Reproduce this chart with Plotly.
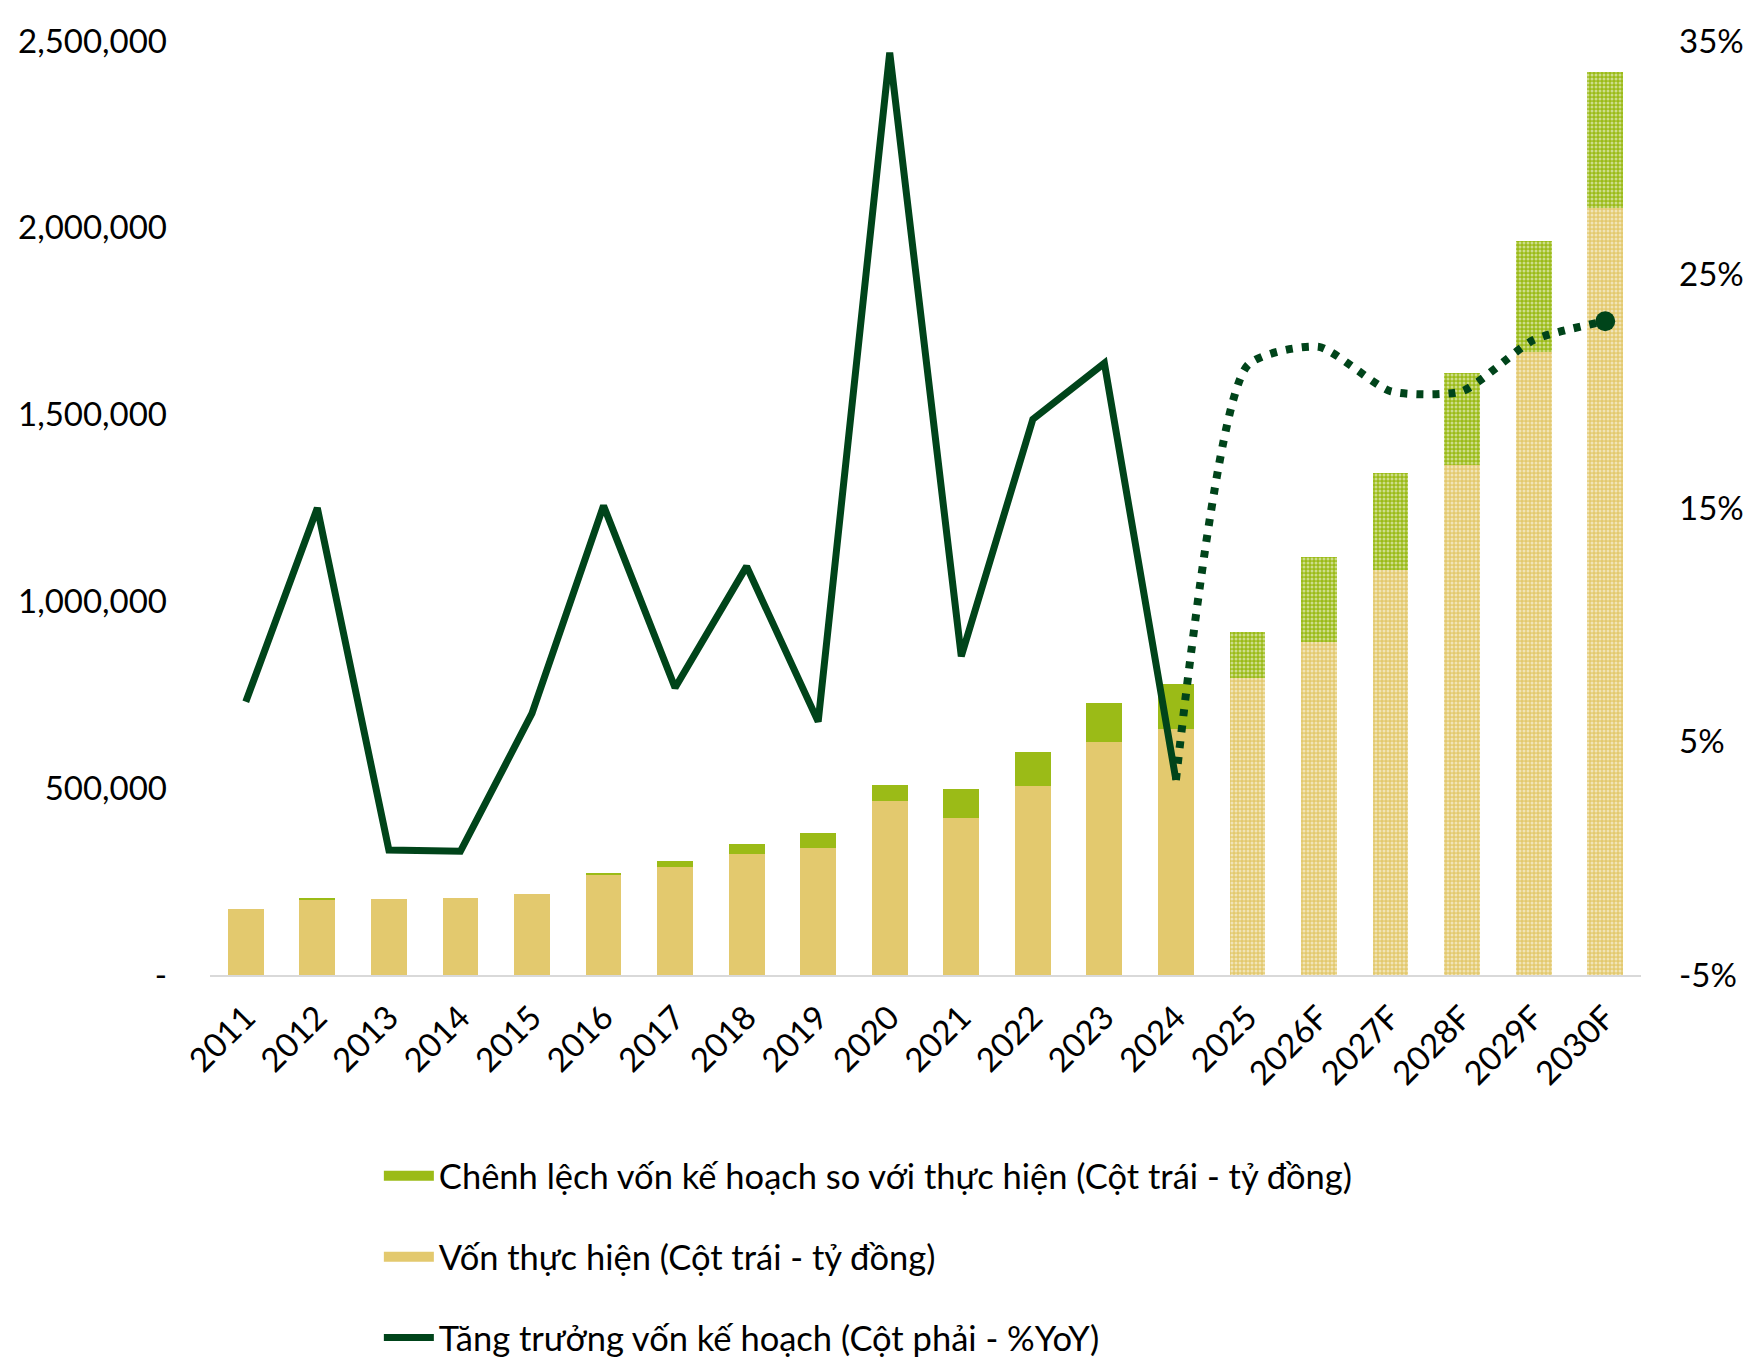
import plotly.graph_objects as go

years = ["2011", "2012", "2013", "2014", "2015", "2016", "2017", "2018", "2019", "2020",
         "2021", "2022", "2023", "2024", "2025", "2026F", "2027F", "2028F", "2029F", "2030F"]
realized = [175600, 202000, 203400, 206000, 217600, 266600, 288000, 322800, 340700, 464700,
            420800, 507000, 623700, 659300, 795800, 892200, 1083000, 1366400, 1668400, 2053800]
gap = [0, 3000, 0, 0, 0, 6400, 17000, 26800, 39300, 44700,
       77200, 89600, 104300, 120400, 123100, 226700, 259600, 244600, 297100, 364000]
growth_actual_years = years[:14]
growth_actual = [6.7, 15.0, 0.35, 0.3, 6.2, 15.1, 7.3, 12.5, 5.85, 34.5, 8.65, 18.8, 21.2, 3.35]
growth_fc_years = years[13:]
growth_fc = [3.35, 21.1, 21.9, 20.0, 20.0, 22.2, 23.0]
forecast_from = "2025"

left_ticks = [0, 500000, 1000000, 1500000, 2000000, 2500000]
left_ticktext = ["-", "500,000", "1,000,000", "1,500,000", "2,000,000", "2,500,000"]
right_ticks = [-5, 5, 15, 25, 35]
right_ticktext = ["-5%", "5%", "15%", "25%", "35%"]

names = ["Chênh lệch vốn kế hoạch so với thực hiện (Cột trái - tỷ đồng)",
         "Vốn thực hiện (Cột trái - tỷ đồng)",
         "Tăng trưởng vốn kế hoạch (Cột phải - %YoY)"]

C_GREEN = "#9BBB17"
C_TAN = "#E3C96E"
C_LINE = "#00441A"
FONT = "Lato"
FS = 33
FS_LEG = 34.5

fc_idx = years.index(forecast_from)
shapes = ["" if i < fc_idx else "." for i in range(len(years))]
pat = dict(shape=shapes, fgcolor="white", size=4, solidity=0.45)

fig = go.Figure()
fig.add_trace(go.Bar(
    x=years, y=realized, name=names[1], showlegend=False,
    marker=dict(color=C_TAN, line=dict(width=0), pattern=pat),
))
fig.add_trace(go.Bar(
    x=years, y=gap, name=names[0], showlegend=False,
    marker=dict(color=C_GREEN, line=dict(width=0), pattern=pat),
))
fig.add_trace(go.Scatter(
    x=growth_actual_years, y=growth_actual, name=names[2], showlegend=False,
    mode="lines", line=dict(color=C_LINE, width=7), yaxis="y2",
))
fig.add_trace(go.Scatter(
    x=growth_fc_years, y=growth_fc, name=names[2], showlegend=False,
    mode="lines", line=dict(color=C_LINE, width=8, dash="7px,9px", shape="spline", smoothing=0.6),
    yaxis="y2",
))
fig.add_trace(go.Scatter(
    x=growth_fc_years[-1:], y=growth_fc[-1:], showlegend=False, hoverinfo="skip",
    mode="markers", marker=dict(size=20, color=C_LINE, opacity=1, line=dict(width=0)),
    yaxis="y2",
))

# legend entries (swatches only, no data)
fig.add_trace(go.Scatter(x=[None], y=[None], name=names[0], legendgroup="a",
                         mode="lines", line=dict(color=C_GREEN, width=21)))
fig.add_trace(go.Scatter(x=[None], y=[None], name=names[1], legendgroup="b",
                         mode="lines", line=dict(color=C_TAN, width=21)))
fig.add_trace(go.Scatter(x=[None], y=[None], name=names[2], legendgroup="c",
                         mode="lines", line=dict(color=C_LINE, width=7)))

fig.update_layout(
    width=1748, height=1361,
    margin=dict(l=210, r=107, t=41, b=386, autoexpand=False),
    paper_bgcolor="white", plot_bgcolor="white",
    barmode="stack", bargap=0.5,
    font=dict(family=FONT, size=FS, color="#000000"),
    xaxis=dict(type="category", categoryorder="array", categoryarray=years,
               range=[-0.5, len(years) - 0.5],
               showgrid=False, showline=True, linecolor="#D9D9D9", linewidth=2,
               ticks="", tickangle=-45, tickfont=dict(size=FS), zeroline=False,
               automargin=False, ticklabelstandoff=8),
    yaxis=dict(range=[0, 2500000], tickvals=left_ticks, ticktext=left_ticktext,
               showgrid=False, zeroline=False, showline=False, ticks="",
               ticklabelstandoff=42, tickfont=dict(size=FS), automargin=False),
    yaxis2=dict(range=[-5, 35], tickvals=right_ticks, ticktext=right_ticktext,
                overlaying="y", side="right", showgrid=False, zeroline=False,
                showline=False, ticks="", ticklabelstandoff=37, tickfont=dict(size=FS),
                automargin=False),
    legend=dict(x=0.118, y=-0.184, xanchor="left", yanchor="top", orientation="v",
                traceorder="grouped", tracegroupgap=33, font=dict(size=FS_LEG),
                itemwidth=50, bgcolor="rgba(0,0,0,0)"),
    showlegend=True,
)

fig.write_html("out.html")
